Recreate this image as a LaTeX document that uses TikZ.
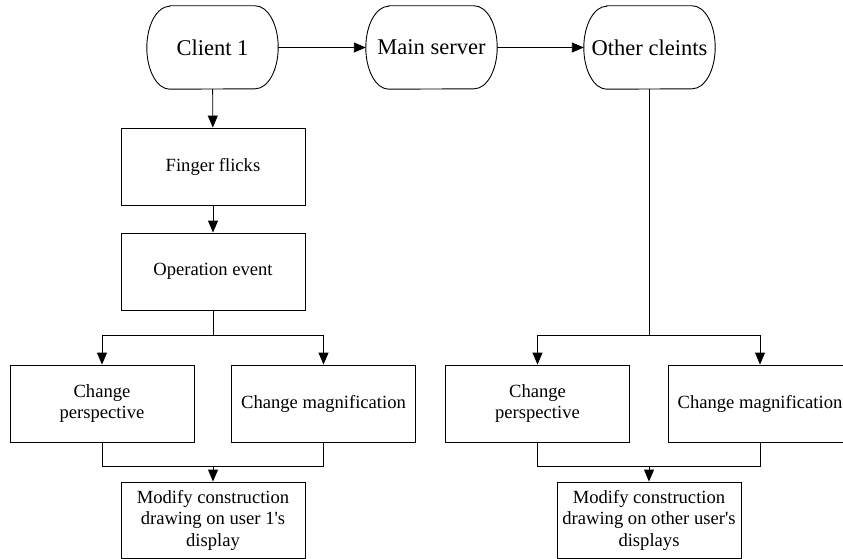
\documentclass[tikz,border=0pt]{standalone}
\usepackage{fontspec}
\setmainfont{Liberation Serif}[Ligatures=TeXOff]
\usetikzlibrary{arrows.meta}

% outline of a terminal node: flat top and bottom, elliptical sides
\newcommand\termoutline[1]{%
  \draw[line] ([xshift=23pt]#1.north west) -- ([xshift=-23pt]#1.north east)
    arc[start angle=90, end angle=-90, x radius=23pt, y radius=41.5pt]
    -- ([xshift=23pt]#1.south west)
    arc[start angle=270, end angle=90, x radius=23pt, y radius=41.5pt]
    -- cycle;}

\begin{document}
\begin{tikzpicture}[x=1pt, y=-1pt,
  line/.style={line width=0.9pt, draw=black},
  arr/.style={line, -{Triangle[length=12pt, width=10pt]}},
  term/.style={inner sep=0pt, minimum width=131pt, minimum height=83pt,
    font=\fontsize{22.5}{25}\selectfont},
  stepbox/.style={line, inner sep=0pt, minimum width=184pt, minimum height=77pt,
    align=center, font=\fontsize{18.6}{21.5}\selectfont},
]
\useasboundingbox (0,0) rectangle (843,559);
\clip (0,0) rectangle (843,559);
\fill[white] (0,0) rectangle (843,559);

% top row
\node[term] (c1) at (212.5,47.5) {Client 1};
\node[term] (ms) at (431.5,47.5) {Main server};
\node[term] (oc) at (649.5,47.5) {Other cleints};
\termoutline{c1}
\termoutline{ms}
\termoutline{oc}
\draw[arr] (c1) -- (ms);
\draw[arr] (ms) -- (oc);

% left column: local client
\node[stepbox] (ff) at (213,166.5) {Finger flicks};
\node[stepbox] (oe) at (213,271.5) {Operation event};
\node[stepbox] (cp1) at (102,403.5) {Change\\perspective};
\node[stepbox] (cm1) at (323.5,403.5) {Change magnification};
\node[stepbox, minimum height=76pt] (md1) at (213,520) {Modify construction\\drawing on user 1's\\display};

\draw[arr] (c1) -- (ff);
\draw[arr] (ff) -- (oe);
\coordinate (b1) at (213,335);
\coordinate (j1) at (213,466);
\draw[line] (oe) -- (b1);
\draw[arr] (b1) -| (cp1.north);
\draw[arr] (b1) -| (cm1.north);
\draw[line] (cp1.south) |- (j1);
\draw[line] (cm1.south) |- (j1);
\draw[arr] (j1) -- (md1.north);

% right column: other clients
\node[stepbox] (cp2) at (537.5,403.5) {Change\\perspective};
\node[stepbox] (cm2) at (760,403.5) {Change magnification};
\node[stepbox, minimum height=76pt] (md2) at (649,520) {Modify construction\\drawing on other user's\\displays};

\coordinate (b2) at (649.5,335);
\coordinate (j2) at (649,466);
\draw[line] (oc) -- (b2);
\draw[arr] (b2) -| (cp2.north);
\draw[arr] (b2) -| (cm2.north);
\draw[line] (cp2.south) |- (j2);
\draw[line] (cm2.south) |- (j2);
\draw[arr] (j2) -- (md2.north);
\end{tikzpicture}
\end{document}
